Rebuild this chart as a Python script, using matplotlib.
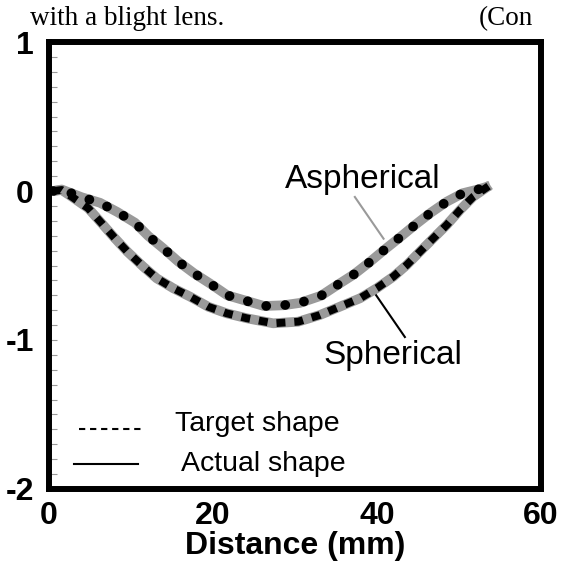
import matplotlib
matplotlib.use("Agg")
import matplotlib.pyplot as plt
from matplotlib.ticker import MultipleLocator

# ---- data ----
asph_x = [0.5, 1.55, 3.99, 6.22, 8.33, 10.49, 12.11, 13.94, 15.77, 17.68, 19.72, 21.74,
          23.99, 26.22, 28.57, 30.6, 33.17, 35.16, 37.2, 39.06, 40.98, 42.8, 44.63,
          46.55, 48.5, 50.45, 52.3, 53.8]
asph_target = [0.0, 0.01, -0.042, -0.079, -0.141, -0.213, -0.302, -0.385, -0.474, -0.552,
               -0.624, -0.700, -0.736, -0.772, -0.767, -0.751, -0.703, -0.631, -0.559,
               -0.479, -0.391, -0.311, -0.228, -0.146, -0.072, -0.015, 0.01, 0.035]
asph_actual = [0.0, 0.01, -0.042, -0.079, -0.141, -0.213, -0.302, -0.385, -0.474, -0.552,
               -0.624, -0.700, -0.736, -0.772, -0.767, -0.751, -0.703, -0.631, -0.559,
               -0.479, -0.391, -0.311, -0.228, -0.146, -0.072, -0.015, 0.01, 0.035]

sph_x = [0.5, 1.55, 2.77, 4.79, 6.43, 7.93, 9.55, 11.5, 13.13, 15.16, 17.2, 19.43, 21.67,
         24.11, 27.35, 30.4, 33.05, 35.49, 37.93, 39.96, 41.99, 43.62, 45.24, 46.87,
         48.5, 50.12, 51.74, 53.8]
sph_target = [0.0, 0.007, -0.038, -0.116, -0.217, -0.311, -0.407, -0.508, -0.586, -0.653,
              -0.709, -0.777, -0.821, -0.854, -0.888, -0.877, -0.832, -0.776, -0.720,
              -0.653, -0.575, -0.497, -0.407, -0.317, -0.228, -0.128, -0.038, 0.04]
sph_actual = [0.0, 0.007, -0.038, -0.116, -0.217, -0.311, -0.407, -0.508, -0.586, -0.653,
              -0.709, -0.777, -0.821, -0.854, -0.888, -0.877, -0.832, -0.776, -0.720,
              -0.653, -0.575, -0.497, -0.407, -0.317, -0.228, -0.128, -0.038, 0.04]

x_ticks = [0, 20, 40, 60]
y_ticks = [1, 0, -1, -2]
x_label = "Distance (mm)"
legend_labels = ["Target shape", "Actual shape"]
curve_labels = ["Aspherical", "Spherical"]

plt.rcParams['font.family'] = ['Liberation Sans', 'DejaVu Sans']

fig = plt.figure(figsize=(5.62, 5.64), dpi=100)
ax = fig.add_axes([0.0872, 0.133, 0.8754, 0.7925])

gray = '#9a9a9a'
# actual shapes (thick gray solid)
ax.plot(asph_x, asph_actual, color=gray, lw=7.0, solid_capstyle='butt', zorder=2)
ax.plot(sph_x, sph_actual, color=gray, lw=7.0, solid_capstyle='butt', zorder=2)
# target shapes (black)
ax.plot(asph_x, asph_target, color='black', lw=7.0, linestyle=(0, (0.01, 1.95)),
        dash_capstyle='round', zorder=3)
ax.plot(sph_x, sph_target, color='black', lw=5.6, linestyle=(0, (1.15, 1.15)),
        dash_capstyle='butt', zorder=3)

ax.set_xlim(0, 60)
ax.set_ylim(-2, 1)
ax.set_xticks(x_ticks)
ax.set_yticks(y_ticks)
ax.set_xticklabels([str(v) for v in x_ticks], fontsize=23, fontweight='bold')
ax.set_yticklabels([str(v) for v in y_ticks], fontsize=23, fontweight='bold')
ax.yaxis.set_minor_locator(MultipleLocator(0.1))
ax.tick_params(axis='x', length=0, pad=9)
ax.tick_params(axis='y', which='both', direction='in', length=6, width=0.8,
               color='#999999', pad=11)
for s in ax.spines.values():
    s.set_linewidth(4.3)
ax.set_xlabel(x_label, fontsize=23, fontweight='bold', labelpad=0)

# curve labels with leader lines
ax.text(38.3, 0.075, curve_labels[0], fontsize=24, ha='center', va='center')
ax.plot([37.3, 40.8], [-0.04, -0.32], color=gray, lw=1.5)
ax.text(41.9, -1.105, curve_labels[1], fontsize=24, ha='center', va='center')
ax.plot([39.9, 43.4], [-0.70, -0.98], color='black', lw=1.5)

# legend drawn manually inside axes
ax.plot([3.6, 11.5], [-1.60, -1.60], color='black', lw=1.5, linestyle=(0, (3, 2.3)))
ax.text(15.4, -1.565, legend_labels[0], fontsize=20.5, ha='left', va='center')
ax.plot([3.0, 10.9], [-1.83, -1.83], color='black', lw=1.5)
ax.text(16.1, -1.835, legend_labels[1], fontsize=20.5, ha='left', va='center')

# header fragments from the source page
fig.text(0.053, 0.956, "with a blight lens.", fontsize=19.5, family='Liberation Serif',
         ha='left', va='baseline')
fig.text(0.851, 0.956, "(Con", fontsize=19.5, family='Liberation Serif',
         ha='left', va='baseline')

fig.savefig("out.png", dpi=100)
